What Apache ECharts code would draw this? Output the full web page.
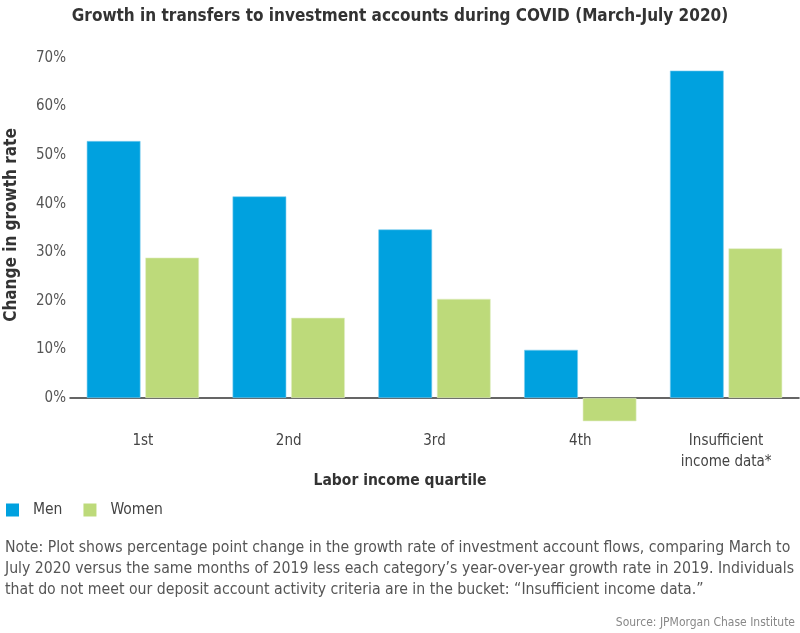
<!DOCTYPE html>
<html><head><meta charset="utf-8">
<script src="https://cdn.jsdelivr.net/npm/echarts@6/dist/echarts.min.js"></script>
<style>html,body{margin:0;padding:0;background:#fff}#c{width:800px;height:633px}</style>
</head><body><div id="c"></div>
<script>
const categories = ['1st', '2nd', '3rd', '4th', 'Insufficient\nincome data*'];
const men = [52.9, 41.5, 34.7, 9.9, 67.4];
const women = [28.9, 16.5, 20.4, -4.8, 30.8];
const yTicks = [-10, 0, 10, 20, 30, 40, 50, 60, 70];
const FONT = "'Liberation Sans Narrow', 'DejaVu Sans Condensed', sans-serif";
const chart = echarts.init(document.getElementById('c'));
chart.setOption({
  animation: false,
  textStyle: { fontFamily: FONT },
  title: [
    { text: 'Growth in transfers to investment accounts during COVID (March-July 2020)', left: 'center', top: 3,
      textStyle: { fontFamily: FONT, fontSize: 17, fontWeight: 'bold', color: '#333' } },
    { text: 'Labor income quartile', left: 'center', top: 468,
      textStyle: { fontFamily: FONT, fontSize: 15.5, fontWeight: 'bold', color: '#333' } },
    { text: 'Note: Plot shows percentage point change in the growth rate of investment account flows, comparing March to\nJuly 2020 versus the same months of 2019 less each category\u2019s year-over-year growth rate in 2019. Individuals\nthat do not meet our deposit account activity criteria are in the bucket: \u201cInsufficient income data.\u201d',
      left: 0, top: 532,
      textStyle: { fontFamily: FONT, fontSize: 15.7, fontWeight: 'normal', color: '#555', lineHeight: 21 } },
    { text: 'Source: JPMorgan Chase Institute', right: 0, top: 612,
      textStyle: { fontFamily: FONT, fontSize: 12, fontWeight: 'normal', color: '#888' } }
  ],
  graphic: [
    { type: 'text', x: 12, y: 225, rotation: Math.PI / 2,
      style: { text: 'Change in growth rate', fontFamily: FONT, fontSize: 17, fontWeight: 'bold', fill: '#333', align: 'center', verticalAlign: 'middle' } }
  ],
  legend: {
    left: 1, top: 497, itemWidth: 13, itemHeight: 13, itemGap: 21,
    icon: 'rect',
    itemStyle: { borderWidth: 0 },
    textStyle: { fontFamily: FONT, fontSize: 15.5, color: '#444', padding: [0, 0, 0, 9] },
    data: ['Men', 'Women']
  },
  grid: { left: 70, right: 1, top: 58, bottom: 186.5, containLabel: false },
  xAxis: {
    type: 'category', data: categories,
    axisLine: { onZero: true, lineStyle: { color: '#333', width: 1.5 } },
    axisTick: { show: false },
    axisLabel: { margin: -16, fontFamily: FONT, fontSize: 15, color: '#444', lineHeight: 21, interval: 0 }
  },
  yAxis: {
    type: 'value', min: yTicks[0], max: yTicks[yTicks.length - 1], interval: 10,
    splitLine: { show: false }, axisLine: { show: false }, axisTick: { show: false },
    axisLabel: { margin: 4, fontFamily: FONT, fontSize: 15, color: '#555',
      formatter: v => (v < 0 ? '' : v + '%') }
  },
  series: [
    { name: 'Men', type: 'bar', data: men, barCategoryGap: '23%', barGap: '9%',
      itemStyle: { color: '#00A1DF', borderColor: '#7ccdef', borderWidth: 0.6 } },
    { name: 'Women', type: 'bar', data: women,
      itemStyle: { color: '#BDDA7A', borderColor: '#e3efc6', borderWidth: 0.6 } }
  ]
});
</script></body></html>
